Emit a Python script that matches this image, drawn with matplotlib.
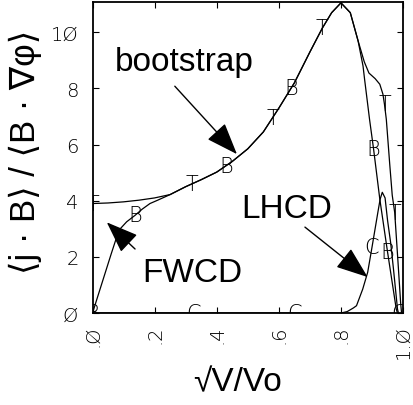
import numpy as np
import matplotlib
matplotlib.use("Agg")
import matplotlib.pyplot as plt

# curva total (marcas T)
x_total = [0.0, 0.05, 0.10, 0.15, 0.20, 0.25, 0.30, 0.35, 0.40, 0.45, 0.50, 0.55,
           0.60, 0.65, 0.70, 0.74, 0.77, 0.80, 0.83, 0.855, 0.875, 0.89, 0.91,
           0.925, 0.935, 0.94, 0.946, 0.957, 0.965, 0.973, 0.983, 0.992, 0.995]
y_total = [3.90, 3.92, 3.96, 4.02, 4.10, 4.22, 4.50, 4.75, 5.02, 5.40, 5.85, 6.45,
           7.30, 8.20, 9.30, 10.15, 10.70, 11.05, 10.70, 9.70, 8.95, 8.55, 8.35,
           8.15, 7.80, 7.44, 6.90, 5.30, 4.20, 3.58, 1.92, 0.38, 0.0]

# bootstrap (marcas B)
x_boot = [0.0, 0.03, 0.06, 0.085, 0.11, 0.137, 0.16, 0.185, 0.21, 0.25, 0.30, 0.35,
          0.40, 0.45, 0.50, 0.55, 0.60, 0.65, 0.70, 0.74, 0.77, 0.80, 0.83, 0.855,
          0.871, 0.876, 0.892, 0.905, 0.925, 0.95, 0.978, 0.982]
y_boot = [0.0, 1.05, 2.10, 2.95, 3.25, 3.48, 3.70, 3.90, 4.02, 4.22, 4.50, 4.75,
          5.02, 5.40, 5.85, 6.45, 7.30, 8.20, 9.30, 10.15, 10.70, 11.05, 10.70, 9.70,
          8.80, 8.33, 6.90, 5.84, 4.06, 2.17, 0.14, 0.0]

# LHCD (marcas C)
x_lhcd = [0.0, 0.80, 0.82, 0.84, 0.85, 0.87, 0.886, 0.90, 0.919, 0.926, 0.933,
          0.942, 0.95, 0.96, 0.969, 0.976, 0.982, 0.985]
y_lhcd = [0.0, 0.0, 0.05, 0.18, 0.26, 0.85, 1.45, 2.35, 3.60, 4.05, 4.30,
          4.10, 3.30, 2.50, 1.57, 0.80, 0.14, 0.0]

# posicoes das letras ao longo das curvas
mark_total = [0.0, 0.32, 0.58, 0.74, 0.94, 0.973]
mark_boot = [0.0, 0.137, 0.43, 0.64, 0.905, 0.95]
mark_lhcd = [0.325, 0.65, 0.90, 0.985]

xticks = [0.0, 0.2, 0.4, 0.6, 0.8, 1.0]
xticklabels = [".Ø", ".2", ".4", ".6", ".8", "1.Ø"]
yticks = [0, 2, 4, 6, 8, 10]
yticklabels = ["Ø", "2", "4", "6", "8", "1Ø"]

fig = plt.figure(figsize=(4.13, 4.06), dpi=100)
ax = fig.add_axes([0.224, 0.2266, 0.752, 0.766])

lw = 0.9
ax.plot(x_total, y_total, color="black", lw=lw)
ax.plot(x_boot, y_boot, color="black", lw=lw)
ax.plot(x_lhcd, y_lhcd, color="black", lw=lw)

# letras como marcadores (cortadas pelos eixos nas pontas)
mk = dict(ha="center", va="center", fontsize=15, fontweight="light",
          family="DejaVu Sans", color="black", clip_on=True)
for xm in mark_total:
    ax.text(xm, np.interp(xm, x_total, y_total), "T", **mk)
for xm in mark_boot:
    ax.text(xm, np.interp(xm, x_boot, y_boot), "B", **mk)
for xm in mark_lhcd:
    ax.text(xm, np.interp(xm, x_lhcd, y_lhcd), "C", **mk)

# anotacoes com setas
arrow = dict(arrowstyle="-|>,head_length=0.8,head_width=0.3", color="black",
             lw=1, mutation_scale=25, shrinkA=0, shrinkB=0)
big = dict(fontsize=24, family="Liberation Sans", ha="center", va="center")
ax.annotate("", xy=(0.465, 5.66), xytext=(0.265, 8.08), arrowprops=arrow)
ax.text(0.297, 8.97, "bootstrap", **big)
ax.annotate("", xy=(0.886, 1.28), xytext=(0.684, 3.06), arrowprops=arrow)
ax.text(0.626, 3.74, "LHCD", **big)
ax.annotate("", xy=(0.046, 3.23), xytext=(0.137, 2.28), arrowprops=arrow)
ax.text(0.32, 1.46, "FWCD", **big)

ax.set_xlim(0, 1)
ax.set_ylim(0, 11.08)
ax.set_xticks(xticks)
ax.set_xticklabels(xticklabels, rotation=90, fontsize=14, family="DejaVu Sans",
                   fontweight="light")
ax.set_yticks(yticks)
ax.set_yticklabels(yticklabels, fontsize=14, family="DejaVu Sans", fontweight="light")
ax.tick_params(direction="in", length=4, width=0.8, top=True, right=True)
ax.tick_params(axis="y", pad=10)
ax.tick_params(axis="x", pad=8)
for s in ax.spines.values():
    s.set_linewidth(1.3)

ax.set_ylabel("⟨j · B⟩ / ⟨B · ∇φ⟩", fontsize=25, family=["Liberation Sans", "DejaVu Sans"])
ax.yaxis.label.set_va("center")
ax.yaxis.set_label_coords(-0.217, 0.52)
ax.set_xlabel("√V/Vo", fontsize=24, family=["Liberation Sans", "DejaVu Sans"])
ax.xaxis.label.set_va("center")
ax.xaxis.set_label_coords(0.468, -0.222)

fig.savefig("out.png", dpi=100)
